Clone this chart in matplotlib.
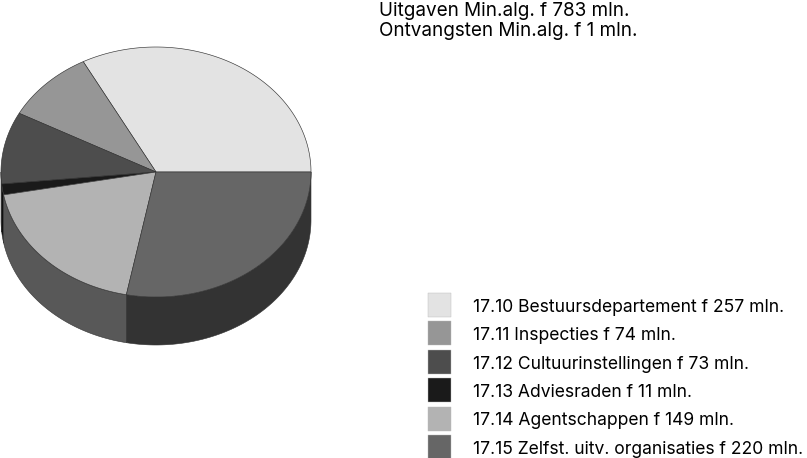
import numpy as np
import matplotlib
matplotlib.use("Agg")
import matplotlib.pyplot as plt
from matplotlib.patches import Polygon, Rectangle

plt.rcParams['font.family'] = ['Inter', 'DejaVu Sans']

labels = ['17.10 Bestuursdepartement f 257 mln.', '17.11 Inspecties f 74 mln.',
          '17.12 Cultuurinstellingen f 73 mln.', '17.13 Adviesraden f 11 mln.',
          '17.14 Agentschappen f 149 mln.', '17.15 Zelfst. uitv. organisaties f 220 mln.']
values = [257, 74, 73, 11, 149, 220]
top_colors = ['#e3e3e3', '#969696', '#4d4d4d', '#1a1a1a', '#b3b3b3', '#666666']
side_colors = ['#8c8c8c', '#5c5c5c', '#2e2e2e', '#101010', '#585858', '#333333']
header = ['Uitgaven Min.alg. f 783 mln.', 'Ontvangsten Min.alg. f 1 mln.']

# pie geometrie in pixels
cx, cy, rx, ry, depth = 156, 172, 155, 125, 48

fig = plt.figure(figsize=(8.07, 4.58), dpi=100)
ax = fig.add_axes([0, 0, 1, 1])
ax.set_xlim(0, 807)
ax.set_ylim(458, 0)
ax.axis('off')


def rim(a, b):
    t = np.radians(np.linspace(a, b, max(int(abs(b - a)) * 2, 2)))
    return cx + rx * np.cos(t), cy - ry * np.sin(t)


edges = np.concatenate([[0], np.cumsum(values)]) / sum(values) * 360

# zijkant: alleen de onderste helft (180-360 graden) is zichtbaar
for i in range(len(values)):
    a, b = max(edges[i], 180), min(edges[i + 1], 360)
    if b <= a:
        continue
    x, y = rim(a, b)
    pts = np.r_[np.c_[x, y], np.c_[x[::-1], y[::-1] + depth]]
    ax.add_patch(Polygon(pts, closed=True, facecolor=side_colors[i], edgecolor='#333333', linewidth=0.4))

# bovenkant
for i in range(len(values)):
    x, y = rim(edges[i], edges[i + 1])
    pts = np.r_[[[cx, cy]], np.c_[x, y]]
    ax.add_patch(Polygon(pts, closed=True, facecolor=top_colors[i], edgecolor='#333333', linewidth=0.45))

# legenda
for i, lab in enumerate(labels):
    y0 = 293 + i * 28.4
    ax.add_patch(Rectangle((427.5, y0), 23.5, 24, facecolor=top_colors[i], edgecolor='#bbbbbb', linewidth=0.3))
    ax.text(473, 312 + i * 28.3, lab, fontsize=12.6, va='baseline', ha='left', color='black')

ax.text(379, 15.5, header[0], fontsize=13.6, va='baseline', ha='left', color='black')
ax.text(379, 35.5, header[1], fontsize=13.6, va='baseline', ha='left', color='black')

fig.savefig('out.png', dpi=100, facecolor='white')
